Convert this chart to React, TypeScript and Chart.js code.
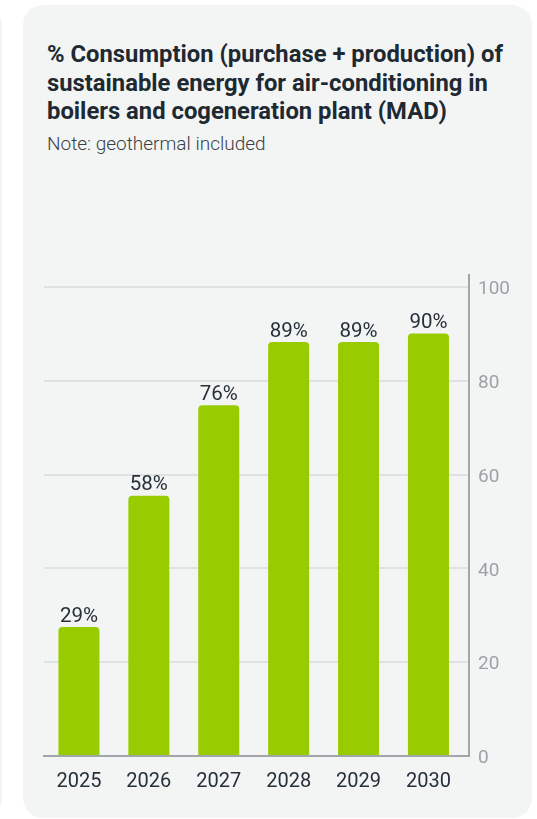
import React, { useEffect, useRef } from "react";
import { Chart, registerables } from "chart.js";

Chart.register(...registerables);

const categories = ["2025", "2026", "2027", "2028", "2029", "2030"];
const shareValues = [27.5, 55.5, 74.8, 88.3, 88.3, 90.1];
const valueLabels = ["29%", "58%", "76%", "89%", "89%", "90%"];
const yTicks = [0, 20, 40, 60, 80, 100];

const titleText = "% Consumption (purchase + production) of sustainable energy for air-conditioning in boilers and cogeneration plant (MAD)";
const noteText = "Note: geothermal included";

const BAR = "#99cc00";
const DARK = "#26303a";
const TICK_GREY = "#9ca3a7";
const AXIS = "#a0a6aa";
const GRID = "#dfe2e3";
const CARD = "#f3f5f5";

const labelPlugin = {
  id: "valueLabels",
  afterDatasetsDraw(chart: any) {
    const ctx = chart.ctx;
    const meta = chart.getDatasetMeta(0);
    ctx.save();
    ctx.font = "400 20.5px Roboto";
    ctx.fillStyle = DARK;
    ctx.textAlign = "center";
    ctx.textBaseline = "alphabetic";
    meta.data.forEach((bar: any, i: number) => {
      ctx.fillText(valueLabels[i], bar.x, bar.y - 5.5);
    });
    ctx.restore();
  },
};

export default function App() {
  const ref = useRef<HTMLCanvasElement | null>(null);

  useEffect(() => {
    if (!ref.current) return;
    const chart = new Chart(ref.current, {
      type: "bar",
      data: {
        datasets: [
          {
            data: shareValues.map((v, i) => ({ x: i, y: v })),
            backgroundColor: BAR,
            borderRadius: 4,
            barPercentage: 0.587,
            categoryPercentage: 1,
          },
        ],
      },
      options: {
        animation: false,
        responsive: false,
        layout: { padding: { left: 44, right: 28, top: 275, bottom: 23 } },
        plugins: { legend: { display: false }, tooltip: { enabled: false } },
        scales: {
          x: {
            type: "linear",
            min: -0.5,
            max: 5.58,
            offset: false,
            grid: { display: false, drawTicks: false },
            border: { display: true, color: AXIS, width: 2 },
            afterBuildTicks: (scale: any) => {
              scale.ticks = categories.map((_, i) => ({ value: i }));
            },
            afterFit: (scale: any) => {
              scale.height = 40;
            },
            ticks: {
              padding: 14,
              color: DARK,
              font: { family: "Roboto", size: 20, weight: "400" },
              maxRotation: 0,
              autoSkip: false,
              callback: (v: any) => categories[Math.round(Number(v))] ?? "",
            },
          },
          y: {
            position: "right",
            min: 0,
            max: 102.6,
            afterBuildTicks: (scale: any) => {
              scale.ticks = yTicks.map((v) => ({ value: v }));
            },
            afterFit: (scale: any) => {
              scale.width = 40;
            },
            grid: {
              drawTicks: false,
              lineWidth: 2,
              color: (c: any) => (c.tick && c.tick.value === 0 ? "rgba(0,0,0,0)" : GRID),
            },
            border: { display: true, color: AXIS, width: 2 },
            ticks: {
              padding: 9,
              labelOffset: 2.5,
              color: TICK_GREY,
              font: { family: "Roboto", size: 19, weight: "400" },
            },
          },
        },
      },
      plugins: [labelPlugin],
    });
    return () => chart.destroy();
  }, []);

  return (
    <div
      style={{
        position: "absolute",
        left: 0,
        top: 0,
        width: 537,
        height: 819,
        overflow: "hidden",
        background: "#ffffff",
      }}
    >
      <div
        style={{
          position: "absolute",
          left: -500,
          top: 5,
          width: 502,
          height: 813,
          borderRadius: 20,
          background: CARD,
        }}
      />
      <div
        style={{
          position: "absolute",
          left: 23,
          top: 5,
          width: 509,
          height: 813,
          borderRadius: 20,
          background: CARD,
        }}
      />
      <div
        style={{
          position: "absolute",
          left: 47,
          top: 40.4,
          width: 472,
          fontFamily: "Roboto",
          fontWeight: 700,
          fontSize: 23.8,
          lineHeight: "28.3px",
          color: "#1e2932",
        }}
      >
        {titleText}
      </div>
      <div
        style={{
          position: "absolute",
          left: 47,
          top: 132.5,
          fontFamily: "Roboto",
          fontWeight: 300,
          fontSize: 19,
          lineHeight: "22px",
          color: "#3a3f44",
          whiteSpace: "nowrap",
        }}
      >
        {noteText}
      </div>
      <canvas
        ref={ref}
        width={537}
        height={819}
        style={{ position: "absolute", left: 0, top: 0, width: 537, height: 819 }}
      />
    </div>
  );
}
